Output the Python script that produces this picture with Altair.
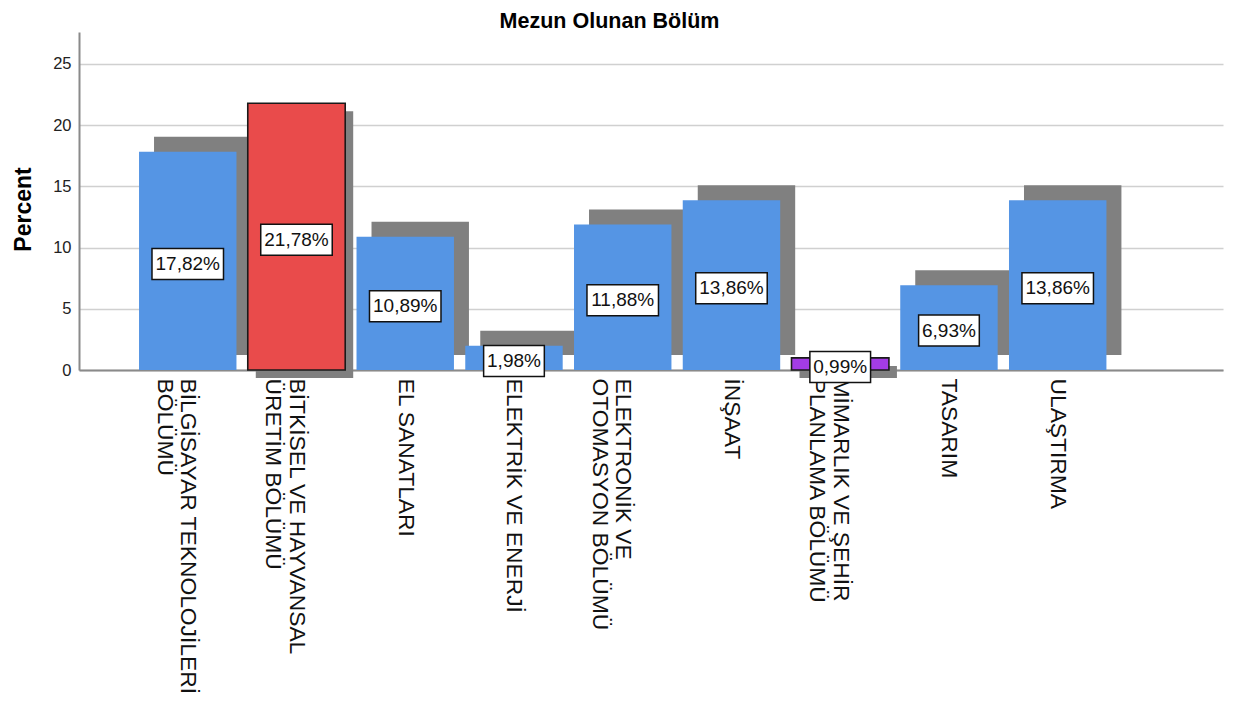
import altair as alt
import pandas as pd

# ---- data ----
chart_title = "Mezun Olunan Bölüm"
categories = [
    "BİLGİSAYAR TEKNOLOJİLERİ BÖLÜMÜ",
    "BİTKİSEL VE HAYVANSAL ÜRETİM BÖLÜMÜ",
    "EL SANATLARI",
    "ELEKTRİK VE ENERJİ",
    "ELEKTRONİK VE OTOMASYON BÖLÜMÜ",
    "İNŞAAT",
    "MİMARLIK VE ŞEHİR PLANLAMA BÖLÜMÜ",
    "TASARIM",
    "ULAŞTIRMA",
]
label_lines = [
    ["BİLGİSAYAR TEKNOLOJİLERİ", "BÖLÜMÜ"],
    ["BİTKİSEL VE HAYVANSAL", "ÜRETİM BÖLÜMÜ"],
    ["EL SANATLARI"],
    ["ELEKTRİK VE ENERJİ"],
    ["ELEKTRONİK VE", "OTOMASYON BÖLÜMÜ"],
    ["İNŞAAT"],
    ["MİMARLIK VE ŞEHİR", "PLANLAMA BÖLÜMÜ"],
    ["TASARIM"],
    ["ULAŞTIRMA"],
]
percents = [17.82, 21.78, 10.89, 1.98, 11.88, 13.86, 0.99, 6.93, 13.86]
y_ticks = [0, 5, 10, 15, 20, 25]

# categories drawn in a highlight style (style mapping kept separate)
highlight_group = {
    "BİTKİSEL VE HAYVANSAL ÜRETİM BÖLÜMÜ": "red",
    "MİMARLIK VE ŞEHİR PLANLAMA BÖLÜMÜ": "purple",
}

BLUE = "#5595E4"
RED = "#E94B4B"
PURPLE = "#A33CE6"
SHADOW = "#808080"
FONT = "Liberation Sans"

df = pd.DataFrame({
    "idx": list(range(len(categories))),
    "category": categories,
    "value": percents,
})
df["group"] = [highlight_group.get(c, "normal") for c in categories]

PX_PER_UNIT = 1144 / 10.52
HALF_BAR = 0.448

lines_js = "[" + ",".join(
    "[" + ",".join("'" + l + "'" for l in lines) + "]" for lines in label_lines
) + "]"

x_scale = alt.Scale(domain=[-1.0, 9.52], nice=False, zero=False)
y_scale = alt.Scale(domain=[0, 27.6], nice=False)

x_axis = alt.Axis(
    values=list(range(len(categories))),
    labelExpr=f"{lines_js}[datum.value]",
    labelAngle=90, labelAlign="left", labelBaseline="middle",
    labelPadding=8, labelFontSize=22.8, labelLineHeight=23.5,
    labelLimit=600, labelOverlap=False, labelBound=False, labelFlush=False,
    labelColor="#111111", labelFont=FONT,
    ticks=False, grid=False, domainColor="#8a8a8a", domainWidth=2, title=None,
)
y_axis = alt.Axis(
    values=y_ticks,
    grid=True, gridColor="#d0d0d0", gridWidth=1.5,
    domainColor="#8a8a8a", domainWidth=2, ticks=False,
    labelPadding=8, labelFontSize=16.5, labelColor="#222222", labelFont=FONT,
    title="Percent", titleFontSize=23, titleFontWeight="bold", titleFont=FONT,
    titleColor="#000000", titleX=-49, titleY=177, titleAngle=-90,
    titleAlign="center", titleBaseline="alphabetic",
)


def X(field):
    return alt.X(field, type="quantitative", scale=x_scale, axis=x_axis)


def Y(field):
    return alt.Y(field, type="quantitative", scale=y_scale, axis=y_axis)


base = alt.Chart(df).transform_calculate(
    x0=f"datum.idx - {HALF_BAR}",
    x1=f"datum.idx + {HALF_BAR}",
    zero="0",
    mid="datum.value / 2",
    lbl="replace(format(datum.value, '.2f'), '.', ',') + '%'",
).transform_calculate(
    bx0=f"datum.idx - (10.8 * length(datum.lbl) + 6.7) / 2 / {PX_PER_UNIT}",
    bx1=f"datum.idx + (10.8 * length(datum.lbl) + 6.7) / 2 / {PX_PER_UNIT}",
)

normal = base.transform_filter("datum.group == 'normal'")
high = base.transform_filter("datum.group != 'normal'")

shadow_normal = normal.mark_rect(
    color=SHADOW, xOffset=15, x2Offset=15, yOffset=-15, y2Offset=-15
).encode(x=X("x0"), x2="x1:Q", y=Y("value"), y2="zero:Q")

shadow_high = high.mark_rect(
    color=SHADOW, xOffset=8, x2Offset=8, yOffset=8, y2Offset=8
).encode(x=X("x0"), x2="x1:Q", y=Y("value"), y2="zero:Q")

color_scale = alt.Scale(domain=["normal", "red", "purple"], range=[BLUE, RED, PURPLE])

bars_normal = normal.mark_rect().encode(
    x=X("x0"), x2="x1:Q", y=Y("value"), y2="zero:Q",
    fill=alt.Fill("group:N", scale=color_scale, legend=None),
)
bars_high = high.mark_rect(stroke="#1a1a1a", strokeWidth=1.6).encode(
    x=X("x0"), x2="x1:Q", y=Y("value"), y2="zero:Q",
    fill=alt.Fill("group:N", scale=color_scale, legend=None),
)

boxes = base.mark_rect(
    fill="white", stroke="#111111", strokeWidth=1.5, yOffset=-12.5, y2Offset=18.5
).encode(x=X("bx0"), x2="bx1:Q", y=Y("mid"), y2="mid:Q")

texts = base.mark_text(
    font=FONT, fontSize=19, color="#111111", baseline="middle", align="center", dy=3
).encode(x=X("idx"), y=Y("mid"), text="lbl:N")

title_text = alt.Chart(pd.DataFrame({"t": [chart_title]})).mark_text(
    font=FONT, fontSize=21.5, fontWeight="bold", color="#000000",
    align="center", baseline="alphabetic",
).encode(x=alt.value(530.5), y=alt.value(-4), text="t:N")

chart = alt.layer(
    shadow_normal, shadow_high, bars_normal, bars_high, boxes, texts, title_text
).properties(
    width=1144,
    height=338,
    autosize=alt.AutoSizeParams(type="none"),
    padding={"left": 71, "top": 24, "right": 12, "bottom": 332},
    background="white",
).configure_view(stroke=None)

chart.save("out.html", embed_options={"renderer": "svg", "actions": False})
